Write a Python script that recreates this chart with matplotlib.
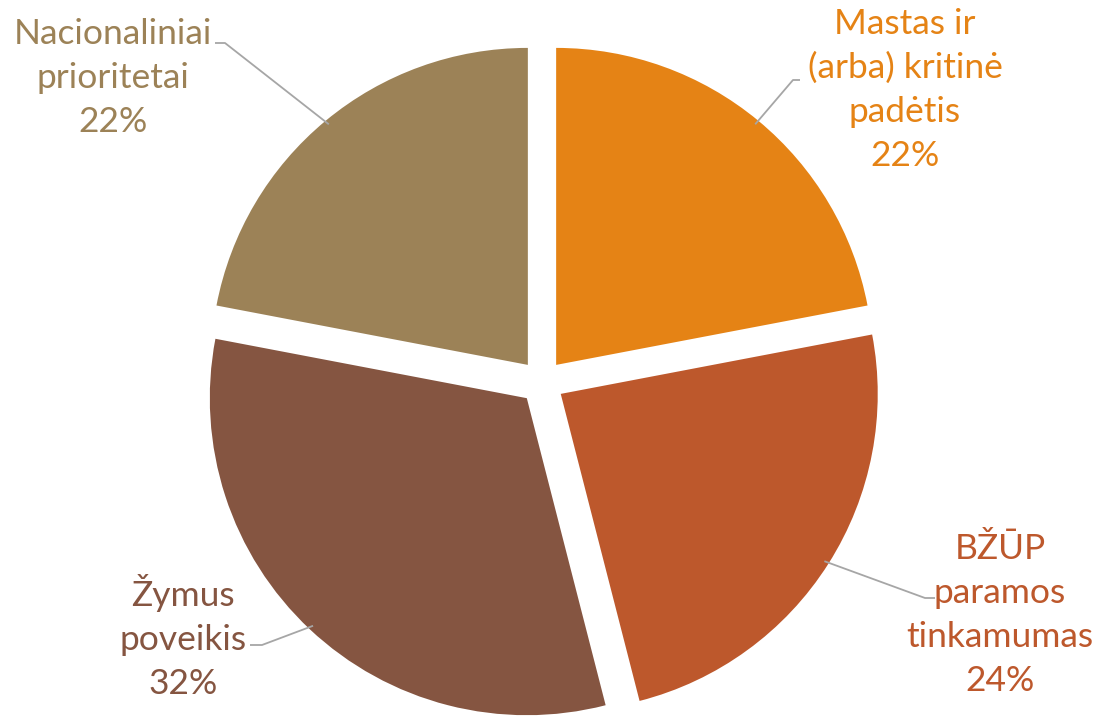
#!/usr/bin/env python3
"""Pie chart: criteria shares (Lithuanian labels), exploded slices with leader lines."""

import numpy as np
import matplotlib
matplotlib.use("Agg")
import matplotlib.pyplot as plt

# data
labels = ["Mastas ir\n(arba) kritinė\npadėtis", "BŽŪP\nparamos\ntinkamumas",
          "Žymus\npoveikis", "Nacionaliniai\nprioritetai"]
shares = [22, 24, 32, 22]
colors = ["#E58315", "#BD582C", "#855541", "#9C8257"]

# layout (pixel coords, y up)
W, H = 1104, 716
CENTER = (542, H - 382)
RADIUS = 317
# text anchor (center of block), elbow start, elbow end
label_pos = [(905, H - 90), (1000, H - 615), (183, H - 637), (113, H - 78)]
elbow = [((800, H - 80), (793, H - 80)),
         ((935, H - 598), (925, H - 598)),
         ((250, H - 645), (262, H - 645)),
         ((215, H - 43), (225, H - 43))]

plt.rcParams["font.family"] = ["Lato", "DejaVu Sans"]

fig = plt.figure(figsize=(W / 100, H / 100), dpi=100)
ax = fig.add_axes([0, 0, 1, 1])

# explode is in data units for ax.pie
explode = [0.07 * RADIUS] * len(shares)
wedges, _ = ax.pie(shares, colors=colors, startangle=90, counterclock=False,
                   center=CENTER, radius=RADIUS, explode=explode,
                   wedgeprops=dict(linewidth=0))
ax.set_xlim(0, W)
ax.set_ylim(0, H)
ax.set_aspect("equal")
ax.axis("off")

total = sum(shares)
for i, w in enumerate(wedges):
    ang = np.deg2rad((w.theta1 + w.theta2) / 2)
    cx, cy = w.center
    # point on the arc where the leader line meets the slice
    px = cx + w.r * 0.985 * np.cos(ang)
    py = cy + w.r * 0.985 * np.sin(ang)
    (x0, y0), (x1, y1) = elbow[i]
    ax.plot([x0, x1, px], [y0, y1, py], color="#A6A6A6", lw=1.3,
            solid_capstyle="butt", zorder=3)
    pct = round(100 * shares[i] / total)
    ax.text(label_pos[i][0], label_pos[i][1], f"{labels[i]}\n{pct}%",
            ha="center", va="center", fontsize=25.5, color=colors[i],
            linespacing=1.45)

fig.savefig("out.png", dpi=100)
